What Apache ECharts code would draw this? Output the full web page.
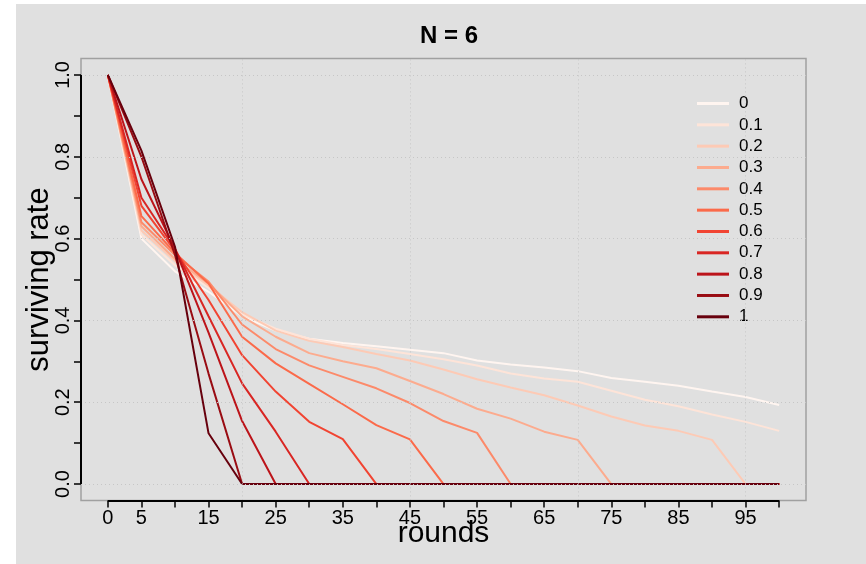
<!DOCTYPE html>
<html>
<head>
<meta charset="utf-8">
<script src="https://cdn.jsdelivr.net/npm/echarts@6/dist/echarts.min.js"></script>
<style>
  html, body { margin: 0; padding: 0; background: #ffffff; }
  #panel { position: absolute; left: 16px; top: 4px; right: 0; bottom: 0; background: #e0e0e0; }
  #chart { position: absolute; left: 0; top: 0; width: 866px; height: 564px; }
</style>
</head>
<body>
<div id="panel"></div>
<div id="chart"></div>
<script>
// Rounds sampled every 5 steps
const rounds = [0, 5, 10, 15, 20, 25, 30, 35, 40, 45, 50, 55, 60, 65, 70, 75, 80, 85, 90, 95, 100];

// Legend labels (parameter level) and their colours (Reds ramp)
const levelNames = ['0', '0.1', '0.2', '0.3', '0.4', '0.5', '0.6', '0.7', '0.8', '0.9', '1'];
const lineColors = ['#FFF5F0', '#FEE4D8', '#FDCAB5', '#FCAB8E', '#FC8A6A', '#FB6A4A',
                    '#F14432', '#D92623', '#BC141A', '#990C13', '#67000D'];

// Surviving rate per level
const rate_0   = [1, 0.600, 0.520, 0.470, 0.410, 0.375, 0.355, 0.345, 0.337, 0.328, 0.320, 0.302, 0.292, 0.285, 0.276, 0.259, 0.250, 0.240, 0.226, 0.213, 0.193];
const rate_0_1 = [1, 0.610, 0.535, 0.480, 0.415, 0.380, 0.355, 0.340, 0.330, 0.318, 0.305, 0.290, 0.270, 0.258, 0.250, 0.228, 0.206, 0.190, 0.170, 0.152, 0.130];
const rate_0_2 = [1, 0.620, 0.545, 0.485, 0.420, 0.375, 0.350, 0.335, 0.318, 0.302, 0.280, 0.256, 0.236, 0.217, 0.192, 0.165, 0.143, 0.130, 0.108, 0, 0];
const rate_0_3 = [1, 0.630, 0.550, 0.490, 0.410, 0.360, 0.320, 0.300, 0.283, 0.252, 0.220, 0.184, 0.160, 0.128, 0.108, 0, 0, 0, 0, 0, 0];
const rate_0_4 = [1, 0.640, 0.560, 0.495, 0.390, 0.330, 0.290, 0.262, 0.234, 0.198, 0.154, 0.125, 0, 0, 0, 0, 0, 0, 0, 0, 0];
const rate_0_5 = [1, 0.655, 0.565, 0.490, 0.360, 0.295, 0.245, 0.195, 0.144, 0.109, 0, 0, 0, 0, 0, 0, 0, 0, 0, 0, 0];
const rate_0_6 = [1, 0.680, 0.570, 0.450, 0.315, 0.226, 0.152, 0.110, 0, 0, 0, 0, 0, 0, 0, 0, 0, 0, 0, 0, 0];
const rate_0_7 = [1, 0.700, 0.575, 0.410, 0.246, 0.128, 0, 0, 0, 0, 0, 0, 0, 0, 0, 0, 0, 0, 0, 0, 0];
const rate_0_8 = [1, 0.745, 0.575, 0.370, 0.154, 0, 0, 0, 0, 0, 0, 0, 0, 0, 0, 0, 0, 0, 0, 0, 0];
const rate_0_9 = [1, 0.800, 0.560, 0.270, 0, 0, 0, 0, 0, 0, 0, 0, 0, 0, 0, 0, 0, 0, 0, 0, 0];
const rate_1   = [1, 0.815, 0.580, 0.124, 0, 0, 0, 0, 0, 0, 0, 0, 0, 0, 0, 0, 0, 0, 0, 0, 0];

// Axis ticks, labels and grid positions
const xTicks = [0, 5, 10, 15, 20, 25, 30, 35, 40, 45, 50, 55, 60, 65, 70, 75, 80, 85, 90, 95, 100];
const xLabels = [0, 5, 15, 25, 35, 45, 55, 65, 75, 85, 95];
const yTicks = [0, 0.1, 0.2, 0.3, 0.4, 0.5, 0.6, 0.7, 0.8, 0.9, 1];
const yLabels = [0, 0.2, 0.4, 0.6, 0.8, 1];
const xGrid = [20, 45, 70, 95];
const yGrid = [0, 0.2, 0.4, 0.6, 0.8, 1];

const allRates = [rate_0, rate_0_1, rate_0_2, rate_0_3, rate_0_4, rate_0_5,
                  rate_0_6, rate_0_7, rate_0_8, rate_0_9, rate_1];

const FONT = 'Liberation Sans, Arial, Helvetica, sans-serif';

const lineSeries = allRates.map((vals, k) => ({
  name: levelNames[k],
  type: 'line',
  data: rounds.map((r, i) => [r, vals[i]]),
  showSymbol: false,
  symbol: 'none',
  silent: true,
  z: 2,
  color: lineColors[k],
  lineStyle: { width: 2, color: lineColors[k] }
}));

// Dotted reference grid, drawn over the curves
const gridSeries = {
  type: 'line',
  data: [],
  silent: true,
  z: 10,
  markLine: {
    silent: true,
    symbol: ['none', 'none'],
    label: { show: false },
    lineStyle: { color: '#c6c6c6', type: [1, 3], width: 1 },
    data: xGrid.map(v => ({ xAxis: v })).concat(yGrid.map(v => ({ yAxis: v })))
  }
};

// Black axis lines covering only the tick range
const axisSeries = {
  type: 'line',
  data: [],
  silent: true,
  z: 11,
  markLine: {
    silent: true,
    symbol: ['none', 'none'],
    label: { show: false },
    lineStyle: { color: '#000000', type: 'solid', width: 2 },
    data: [
      [{ coord: [xTicks[0], -0.04] }, { coord: [xTicks[xTicks.length - 1], -0.04] }],
      [{ coord: [-4, yTicks[0]] }, { coord: [-4, yTicks[yTicks.length - 1]] }]
    ]
  }
};

const chart = echarts.init(document.getElementById('chart'), null, { renderer: 'canvas' });
chart.setOption({
  backgroundColor: 'transparent',
  animation: false,
  title: {
    text: 'N = 6',
    left: 444,
    textAlign: 'center',
    top: 19,
    textStyle: { fontSize: 24, fontWeight: 'bold', fontFamily: FONT, color: '#000' }
  },
  legend: {
    data: levelNames,
    orient: 'vertical',
    left: 692,
    top: 90,
    itemWidth: 32,
    itemHeight: 3,
    itemGap: 4.33,
    icon: 'rect',
    selectedMode: false,
    textStyle: { fontSize: 17, lineHeight: 16, fontFamily: FONT, color: '#000', padding: [0, 0, 0, 5] }
  },
  grid: {
    left: 81, right: 60, top: 58.6, bottom: 63.6,
    show: true, borderColor: '#a0a0a0', borderWidth: 1.5, backgroundColor: 'transparent'
  },
  xAxis: {
    type: 'value', min: -4, max: 104,
    axisLine: { show: false, onZero: false },
    axisTick: { show: true, customValues: xTicks, length: 7, lineStyle: { color: '#000', width: 1.5 } },
    axisLabel: { customValues: xLabels, fontSize: 20, fontFamily: FONT, color: '#000', margin: 8 },
    splitLine: { show: false },
    name: 'rounds', nameLocation: 'middle', nameGap: 18, nameMoveOverlap: false,
    nameTextStyle: { fontSize: 30, fontFamily: FONT, color: '#000' }
  },
  yAxis: {
    type: 'value', min: -0.04, max: 1.04,
    axisLine: { show: false, onZero: false },
    axisTick: { show: true, customValues: yTicks, length: 7, lineStyle: { color: '#000', width: 1.5 } },
    axisLabel: { customValues: yLabels, rotate: 90, fontSize: 20, fontFamily: FONT, color: '#000', margin: 8,
                 formatter: v => v.toFixed(1) },
    splitLine: { show: false },
    name: 'surviving rate', nameLocation: 'middle', nameGap: 26, nameRotate: 90, nameMoveOverlap: false,
    nameTextStyle: { fontSize: 31, fontFamily: FONT, color: '#000' }
  },
  series: lineSeries.concat([gridSeries, axisSeries])
});
</script>
</body>
</html>
